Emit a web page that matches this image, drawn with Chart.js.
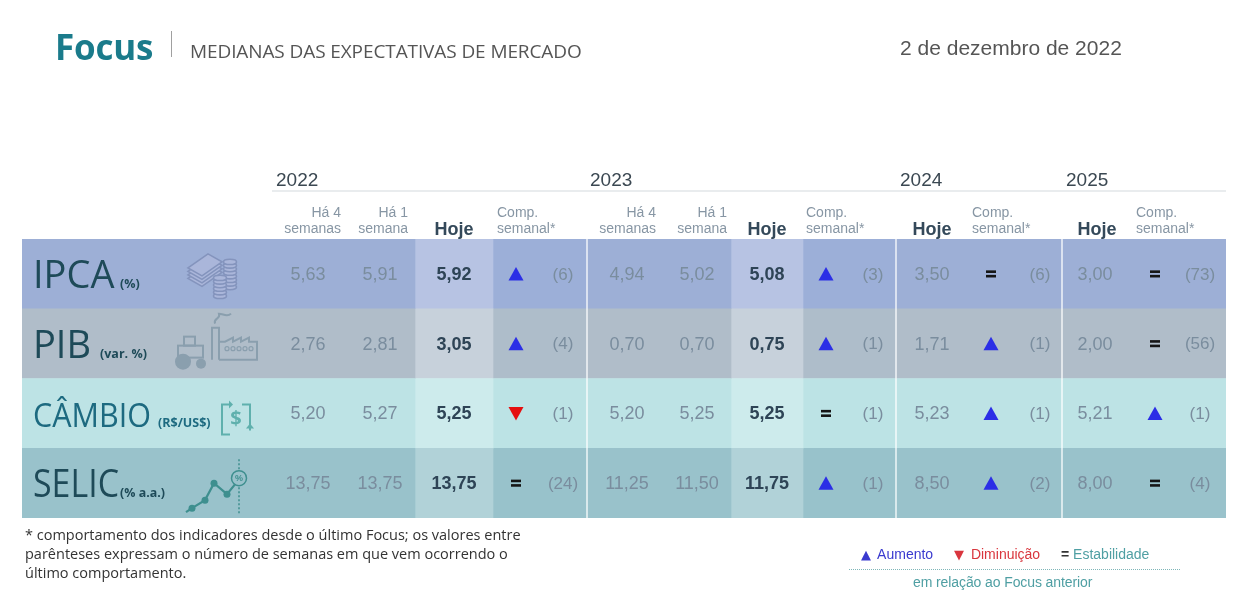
<!DOCTYPE html>
<html lang="pt-BR">
<head>
<meta charset="utf-8">
<title>Focus - Medianas das expectativas de mercado</title>
<script src="https://cdn.jsdelivr.net/npm/chart.js@4.4.1/dist/chart.umd.min.js"></script>
<style>
  html, body { margin: 0; padding: 0; background: #fff; }
  #page { position: relative; width: 1252px; height: 604px; overflow: hidden; font-family: "Liberation Sans", Arial, sans-serif; }
  #chart { position: absolute; left: 0; top: 0; }
  .abs { position: absolute; white-space: nowrap; line-height: 1; }
  #focus { left: 55px; top: 23px; font: 700 35px "Open Sans", sans-serif; color: #1a7b8b; letter-spacing: -0.2px; }
  #sep { left: 171px; top: 31px; width: 1px; height: 26px; background: #a0a0a0; }
  #sub { left: 190px; top: 38px; font: 19px "Open Sans", sans-serif; color: #555; letter-spacing: -0.1px; }
  #date { left: 900px; top: 36px; font: 21px "Liberation Sans", Arial, sans-serif; color: #555; }
  #note { left: 25px; top: 525px; font: 14.5px/19px "Open Sans", sans-serif; color: #333; }
  .leg { top: 546px; font: 14px "Liberation Sans", Arial, sans-serif; }
  .tri { font-family: "DejaVu Sans", sans-serif; font-size: 13px; margin-right: 3px; }
  #dots { left: 849px; top: 569px; width: 331px; height: 0; border-top: 1px dotted #7fb6b8; }
  #rel { left: 913px; top: 574px; font: 14px "Liberation Sans", Arial, sans-serif; color: #4f9fa3; letter-spacing: -0.1px; }
</style>
</head>
<body>
<div id="page">
  <canvas id="chart" width="1252" height="604"></canvas>
  <div class="abs" id="focus">Focus</div>
  <div class="abs" id="sep"></div>
  <div class="abs" id="sub">MEDIANAS DAS EXPECTATIVAS DE MERCADO</div>
  <div class="abs" id="date">2 de dezembro de 2022</div>
  <div class="abs" id="note">* comportamento dos indicadores desde o último Focus; os valores entre<br>parênteses expressam o número de semanas em que vem ocorrendo o<br>último comportamento.</div>
  <div class="abs leg" style="left:861px;color:#3a3acf"><span class="tri">▲</span> Aumento</div>
  <div class="abs leg" style="left:954px;color:#d9363e"><span class="tri">▼</span> Diminuição</div>
  <div class="abs leg" style="left:1061px;color:#4f9fa3"><b style="color:#333">=</b> Estabilidade</div>
  <div class="abs" id="dots"></div>
  <div class="abs" id="rel">em relação ao Focus anterior</div>
</div>
<script>
// indicadores e unidades
const rows = ['IPCA', 'PIB', 'CÂMBIO', 'SELIC'];
const units = ['(%)', '(var. %)', '(R$/US$)', '(% a.a.)'];
const years = ['2022', '2023', '2024', '2025'];

// 2022
const ha4_2022 = [5.63, 2.76, 5.20, 13.75];
const ha1_2022 = [5.91, 2.81, 5.27, 13.75];
const hoje_2022 = [5.92, 3.05, 5.25, 13.75];
const comp_2022 = ['up', 'up', 'down', 'eq'];
const weeks_2022 = [6, 4, 1, 24];

// 2023
const ha4_2023 = [4.94, 0.70, 5.20, 11.25];
const ha1_2023 = [5.02, 0.70, 5.25, 11.50];
const hoje_2023 = [5.08, 0.75, 5.25, 11.75];
const comp_2023 = ['up', 'up', 'eq', 'up'];
const weeks_2023 = [3, 1, 1, 1];

// 2024
const hoje_2024 = [3.50, 1.71, 5.23, 8.50];
const comp_2024 = ['eq', 'up', 'up', 'up'];
const weeks_2024 = [6, 1, 1, 2];

// 2025
const hoje_2025 = [3.00, 2.00, 5.21, 8.00];
const comp_2025 = ['eq', 'eq', 'up', 'eq'];
const weeks_2025 = [73, 56, 1, 4];

// layout: column blocks across the table (x scale units)
const blocks = [
  { kind: 'base', w: 393 },  // label + 2022 Há 4 / Há 1
  { kind: 'hoje', w: 78 },
  { kind: 'comp', w: 94 },
  { kind: 'base', w: 144 },  // 2023 Há 4 / Há 1
  { kind: 'hoje', w: 72 },
  { kind: 'comp', w: 93 },
  { kind: 'base', w: 166 },  // 2024
  { kind: 'base', w: 164 }   // 2025
];
const tableWidth = blocks.reduce((s, b) => s + b.w, 0);
const dividers = [565, 874, 1040];

const rowColors = {
  base: ['#9dafd6', '#b0bdc9', '#bde3e5', '#99c2cb'],
  hoje: ['#b7c3e3', '#c7d1db', '#cdebec', '#b1d2d8'],
  comp: ['#9cafd8', '#aebdca', '#bce3e5', '#98c2cb']
};

const fmt = v => v.toFixed(2).replace('.', ',');

// column positions of the text (x scale units)
const groups = [
  { year: years[0], yearX: 254, ha4: ha4_2022, ha1: ha1_2022, hoje: hoje_2022, comp: comp_2022, weeks: weeks_2022,
    ha4X: 286, ha4H: 319, ha1X: 358, ha1H: 386, hojeX: 432, hojeH: 432, bold: true, signX: 494, countX: 541, compH: 475 },
  { year: years[1], yearX: 568, ha4: ha4_2023, ha1: ha1_2023, hoje: hoje_2023, comp: comp_2023, weeks: weeks_2023,
    ha4X: 605, ha4H: 634, ha1X: 675, ha1H: 705, hojeX: 745, hojeH: 745, bold: true, signX: 804, countX: 851, compH: 784 },
  { year: years[2], yearX: 878, hoje: hoje_2024, comp: comp_2024, weeks: weeks_2024,
    hojeX: 910, hojeH: 910, bold: false, signX: 969, countX: 1018, compH: 950 },
  { year: years[3], yearX: 1044, hoje: hoje_2025, comp: comp_2025, weeks: weeks_2025,
    hojeX: 1073, hojeH: 1075, bold: false, signX: 1133, countX: 1178, compH: 1114 }
];

function drawSign(ctx, kind, cx, cy) {
  ctx.save();
  if (kind === 'up' || kind === 'down') {
    ctx.fillStyle = kind === 'up' ? '#2b2ee6' : '#e50f0f';
    const d = kind === 'up' ? -1 : 1;
    ctx.beginPath();
    ctx.moveTo(cx, cy + d * 7);
    ctx.lineTo(cx - 7.5, cy - d * 6.5);
    ctx.lineTo(cx + 7.5, cy - d * 6.5);
    ctx.closePath();
    ctx.fill();
  } else {
    ctx.fillStyle = '#151515';
    ctx.fillRect(cx - 5, cy - 3.5, 10, 2.6);
    ctx.fillRect(cx - 5, cy + 1, 10, 2.6);
  }
  ctx.restore();
}

function fitText(ctx, text, x, y, width) {
  const w = ctx.measureText(text).width;
  ctx.save();
  ctx.translate(x, y);
  if (w > width) ctx.scale(width / w, 1);
  ctx.fillText(text, 0, 0);
  ctx.restore();
}

// ---- icons in the label column ----
function iconMoney(ctx, x, y) {
  ctx.save();
  ctx.strokeStyle = '#8494bd';
  ctx.fillStyle = '#aab6da';
  ctx.lineWidth = 1.6;
  for (let k = 3; k >= 0; k--) {
    const o = k * 3.5;
    ctx.beginPath();
    ctx.moveTo(x, y - 4 + o);
    ctx.lineTo(x + 20, y - 18 + o);
    ctx.lineTo(x + 34, y - 10 + o);
    ctx.lineTo(x + 14, y + 4 + o);
    ctx.closePath();
    ctx.fill();
    ctx.stroke();
  }
  const stacks = [[x + 42, y - 10, 8], [x + 32, y + 6, 6]];
  stacks.forEach(([sx, sy, n]) => {
    for (let k = n - 1; k >= 0; k--) {
      ctx.beginPath();
      ctx.ellipse(sx, sy + k * 3.6, 6.5, 2.6, 0, 0, Math.PI * 2);
      ctx.fill();
      ctx.stroke();
    }
  });
  ctx.restore();
}

function iconFarm(ctx, x, y) {
  ctx.save();
  ctx.strokeStyle = '#8a9fae';
  ctx.fillStyle = '#8a9fae';
  ctx.lineWidth = 2;
  // tractor
  ctx.strokeRect(x + 3, y + 2, 25, 12);
  ctx.strokeRect(x + 9, y - 7, 11, 9);
  ctx.beginPath(); ctx.arc(x + 8, y + 18, 8, 0, Math.PI * 2); ctx.fill();
  ctx.beginPath(); ctx.arc(x + 26, y + 20, 5, 0, Math.PI * 2); ctx.fill();
  // factory
  ctx.beginPath();
  ctx.moveTo(x + 37, y + 16);
  ctx.lineTo(x + 37, y - 16);
  ctx.lineTo(x + 44, y - 16);
  ctx.lineTo(x + 44, y + 16);
  ctx.stroke();
  ctx.beginPath();
  ctx.moveTo(x + 40, y - 20);
  ctx.bezierCurveTo(x + 38, y - 26, x + 46, y - 24, x + 44, y - 30);
  ctx.bezierCurveTo(x + 48, y - 30, x + 52, y - 26, x + 56, y - 30);
  ctx.stroke();
  ctx.beginPath();
  ctx.moveTo(x + 44, y + 16);
  ctx.lineTo(x + 82, y + 16);
  ctx.lineTo(x + 82, y - 2);
  ctx.lineTo(x + 74, y - 2);
  ctx.lineTo(x + 74, y - 6);
  ctx.lineTo(x + 66, y - 2);
  ctx.lineTo(x + 66, y - 6);
  ctx.lineTo(x + 58, y - 2);
  ctx.lineTo(x + 58, y - 6);
  ctx.lineTo(x + 50, y - 2);
  ctx.lineTo(x + 44, y - 2);
  ctx.stroke();
  ctx.lineWidth = 1.2;
  for (let k = 0; k < 5; k++) {
    ctx.beginPath(); ctx.arc(x + 52 + k * 6, y + 5, 2, 0, Math.PI * 2); ctx.stroke();
  }
  ctx.restore();
}

function iconExchange(ctx, cx, cy) {
  ctx.save();
  ctx.strokeStyle = '#5fb0ad';
  ctx.fillStyle = '#5fb0ad';
  ctx.lineWidth = 2;
  ctx.beginPath();
  ctx.moveTo(cx - 7, cy - 14);
  ctx.lineTo(cx - 14, cy - 14);
  ctx.lineTo(cx - 14, cy + 16);
  ctx.lineTo(cx - 6, cy + 16);
  ctx.moveTo(cx + 6, cy - 14);
  ctx.lineTo(cx + 14, cy - 14);
  ctx.lineTo(cx + 14, cy + 12);
  ctx.stroke();
  ctx.beginPath();
  ctx.moveTo(cx - 7, cy - 18); ctx.lineTo(cx - 7, cy - 10); ctx.lineTo(cx - 3, cy - 14); ctx.closePath(); ctx.fill();
  ctx.beginPath();
  ctx.moveTo(cx + 10, cy + 10); ctx.lineTo(cx + 18, cy + 10); ctx.lineTo(cx + 14, cy + 5); ctx.closePath(); ctx.fill();
  ctx.font = 'bold 20px "Open Sans", sans-serif';
  ctx.textAlign = 'center';
  ctx.textBaseline = 'middle';
  ctx.fillText('$', cx, cy + 1);
  ctx.restore();
}

function iconTrend(ctx, x, y) {
  ctx.save();
  ctx.strokeStyle = '#3e8f8f';
  ctx.fillStyle = '#3e8f8f';
  ctx.lineWidth = 2.2;
  const pts = [[x, y + 22], [x + 13, y + 14], [x + 22, y - 3], [x + 35, y + 8], [x + 44, y - 3]];
  ctx.beginPath();
  ctx.moveTo(x - 6, y + 26);
  pts.forEach(p => ctx.lineTo(p[0], p[1]));
  ctx.stroke();
  pts.slice(0, 4).forEach(p => { ctx.beginPath(); ctx.arc(p[0], p[1], 3.5, 0, Math.PI * 2); ctx.fill(); });
  ctx.setLineDash([2, 2]);
  ctx.lineWidth = 1.5;
  ctx.beginPath();
  ctx.moveTo(x + 47, y - 27);
  ctx.lineTo(x + 47, y + 28);
  ctx.stroke();
  ctx.setLineDash([]);
  ctx.fillStyle = '#99c2cb';
  ctx.beginPath(); ctx.arc(x + 47, y - 8, 7.5, 0, Math.PI * 2); ctx.fill(); ctx.stroke();
  ctx.fillStyle = '#3e8f8f';
  ctx.font = 'bold 9px "Liberation Sans", sans-serif';
  ctx.textAlign = 'center';
  ctx.textBaseline = 'middle';
  ctx.fillText('%', x + 47, y - 8);
  ctx.restore();
}

const tablePlugin = {
  id: 'focusTable',
  afterDatasetsDraw(chart) {
    const { ctx, chartArea, scales: { x, y } } = chart;
    const px = v => x.getPixelForValue(v);
    const top = chartArea.top;
    ctx.save();

    // white dividers between year groups
    ctx.strokeStyle = 'rgba(255,255,255,0.85)';
    ctx.lineWidth = 1.5;
    dividers.forEach(d => {
      ctx.beginPath();
      ctx.moveTo(px(d), top - 12);
      ctx.lineTo(px(d), chartArea.bottom);
      ctx.stroke();
    });

    // year header + rule
    ctx.strokeStyle = '#e2e6e9';
    ctx.lineWidth = 1.5;
    ctx.beginPath();
    ctx.moveTo(px(250), top - 48);
    ctx.lineTo(chartArea.right, top - 48);
    ctx.stroke();

    ctx.textBaseline = 'alphabetic';
    groups.forEach(g => {
      ctx.fillStyle = '#3b4852';
      ctx.font = '19px "Liberation Sans", Arial, sans-serif';
      ctx.textAlign = 'left';
      ctx.fillText(g.year, px(g.yearX), top - 53);

      ctx.font = '14px "Liberation Sans", Arial, sans-serif';
      ctx.fillStyle = '#8796a4';
      if (g.ha4) {
        ctx.textAlign = 'right';
        ctx.fillText('Há 4', px(g.ha4H), top - 22);
        ctx.fillText('semanas', px(g.ha4H), top - 6);
        ctx.fillText('Há 1', px(g.ha1H), top - 22);
        ctx.fillText('semana', px(g.ha1H), top - 6);
      }
      ctx.textAlign = 'left';
      ctx.fillText('Comp.', px(g.compH), top - 22);
      ctx.fillText('semanal*', px(g.compH), top - 6);

      ctx.font = 'bold 18px "Liberation Sans", Arial, sans-serif';
      ctx.fillStyle = '#34495a';
      ctx.textAlign = 'center';
      ctx.fillText('Hoje', px(g.hojeH), top - 4);
    });

    // body
    rows.forEach((name, i) => {
      const cy = y.getPixelForValue(i);
      // row label
      const labelColor = i === 2 ? '#1d6a80' : '#1e4a58';
      ctx.fillStyle = labelColor;
      ctx.textAlign = 'left';
      ctx.textBaseline = 'alphabetic';
      const labelSize = [38, 38, 33, 38][i];
      const labelFit = [84, 58, 118, 86][i];
      ctx.font = labelSize + 'px "Open Sans", sans-serif';
      fitText(ctx, name, px(11), cy + 14, labelFit);
      ctx.font = 'bold 12.5px "Open Sans", sans-serif';
      const unitX = [98, 78, 136, 98][i];
      const unitFit = [23, 53, 55, 45][i];
      fitText(ctx, units[i], px(unitX), cy + 14, unitFit);

      if (i === 0) iconMoney(ctx, px(166), cy - 2);
      if (i === 1) iconFarm(ctx, px(153), cy);
      if (i === 2) iconExchange(ctx, px(214), cy + 5);
      if (i === 3) iconTrend(ctx, px(170), cy + 3);

      // values
      ctx.textBaseline = 'middle';
      ctx.textAlign = 'center';
      groups.forEach(g => {
        ctx.fillStyle = '#7a8d9e';
        ctx.font = '18px "Liberation Sans", Arial, sans-serif';
        if (g.ha4) {
          ctx.fillText(fmt(g.ha4[i]), px(g.ha4X), cy + 1);
          ctx.fillText(fmt(g.ha1[i]), px(g.ha1X), cy + 1);
        }
        if (g.bold) {
          ctx.font = 'bold 18px "Liberation Sans", Arial, sans-serif';
          ctx.fillStyle = '#2e4456';
        }
        ctx.fillText(fmt(g.hoje[i]), px(g.hojeX), cy + 1);
        drawSign(ctx, g.comp[i], px(g.signX), cy);
        ctx.font = '17px "Liberation Sans", Arial, sans-serif';
        ctx.fillStyle = '#7a8d9e';
        ctx.fillText('(' + g.weeks[i] + ')', px(g.countX), cy + 1);
      });
    });
    ctx.restore();
  }
};

new Chart(document.getElementById('chart'), {
  type: 'bar',
  data: {
    labels: rows,
    datasets: blocks.map((b, k) => ({
      label: 'bloco ' + k,
      data: rows.map(() => b.w),
      backgroundColor: rowColors[b.kind],
      borderWidth: 0,
      barPercentage: 1,
      categoryPercentage: 1
    }))
  },
  options: {
    indexAxis: 'y',
    responsive: false,
    animation: false,
    layout: { padding: { left: 22, right: 26, top: 239, bottom: 86 } },
    scales: {
      x: { type: 'linear', min: 0, max: tableWidth, stacked: true, display: false },
      y: { stacked: true, display: false }
    },
    plugins: { legend: { display: false }, tooltip: { enabled: false } }
  },
  plugins: [tablePlugin]
});
</script>
</body>
</html>
